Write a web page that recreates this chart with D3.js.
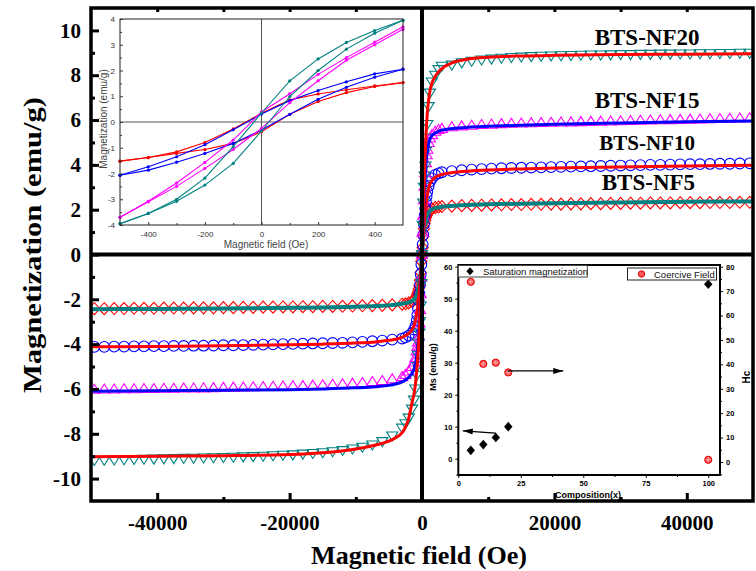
<!DOCTYPE html>
<html>
<head>
<meta charset="utf-8">
<script src="https://cdn.jsdelivr.net/npm/d3@7"></script>
<style>
  body { margin: 0; background: #fff; }
  svg { display: block; }
</style>
</head>
<body>
<div id="chart"></div>
<script>
// ---- main plot data: measured points (Oe, emu/g) ----
const field = [-49500, -48000, -46500, -45000, -43500, -42000, -40500, -39000, -37500, -36000,
  -34500, -33000, -31500, -30000, -28500, -27000, -25500, -24000, -22500, -21000,
  -19500, -18000, -16500, -15000, -13500, -12000, -10500, -9000, -7500, -6000, -4500,
  -3000, -2500, -2000, -1500, -1200, -1000, -800, -700, -600, -500, -400, -300, -200, -100,
  0,
  100, 200, 300, 400, 500, 600, 700, 800, 1000, 1200, 1500, 2000, 2500, 3000,
  4500, 6000, 7500, 9000, 10500, 12000, 13500, 15000, 16500, 18000, 19500, 21000,
  22500, 24000, 25500, 27000, 28500, 30000, 31500, 33000, 34500, 36000, 37500, 39000,
  40500, 42000, 43500, 45000, 46500, 48000, 49500];

const mNF5 = [-2.42, -2.42, -2.41, -2.41, -2.40, -2.40, -2.40, -2.39, -2.39, -2.39,
  -2.38, -2.38, -2.38, -2.37, -2.37, -2.36, -2.36, -2.35, -2.35, -2.34,
  -2.34, -2.33, -2.33, -2.32, -2.32, -2.31, -2.30, -2.29, -2.28, -2.27, -2.25,
  -2.22, -2.20, -2.16, -2.10, -2.03, -1.96, -1.85, -1.76, -1.66, -1.53, -1.38, -1.15, -0.80, -0.30,
  0,
  0.30, 0.80, 1.15, 1.38, 1.53, 1.65, 1.74, 1.82, 1.92, 1.98, 2.04, 2.09, 2.12, 2.14,
  2.16, 2.18, 2.19, 2.20, 2.21, 2.22, 2.23, 2.23, 2.24, 2.24, 2.25, 2.25,
  2.26, 2.26, 2.27, 2.27, 2.28, 2.28, 2.29, 2.29, 2.30, 2.30, 2.30, 2.31,
  2.31, 2.31, 2.32, 2.32, 2.32, 2.33, 2.33];

const mNF10 = [-4.12, -4.12, -4.11, -4.11, -4.10, -4.10, -4.09, -4.09, -4.08, -4.08,
  -4.07, -4.07, -4.06, -4.05, -4.05, -4.04, -4.03, -4.02, -4.01, -4.00,
  -3.99, -3.98, -3.97, -3.96, -3.95, -3.94, -3.92, -3.90, -3.87, -3.84, -3.80,
  -3.75, -3.70, -3.62, -3.50, -3.35, -3.20, -2.95, -2.70, -2.40, -2.05, -1.74, -1.35, -0.88, -0.45,
  0,
  0.45, 0.88, 1.35, 1.74, 2.05, 2.35, 2.60, 2.80, 3.05, 3.25, 3.40, 3.55, 3.62, 3.67,
  3.72, 3.76, 3.79, 3.81, 3.83, 3.85, 3.86, 3.87, 3.88, 3.89, 3.90, 3.91,
  3.92, 3.93, 3.94, 3.95, 3.96, 3.97, 3.98, 3.99, 4.00, 4.00, 4.01, 4.02,
  4.03, 4.03, 4.04, 4.05, 4.05, 4.06, 4.07];

const mNF15 = [-6.01, -6.00, -6.00, -5.99, -5.99, -5.98, -5.98, -5.97, -5.97, -5.96,
  -5.96, -5.95, -5.94, -5.93, -5.92, -5.91, -5.90, -5.89, -5.88, -5.87,
  -5.86, -5.85, -5.83, -5.81, -5.79, -5.77, -5.74, -5.71, -5.67, -5.62, -5.55,
  -5.45, -5.35, -5.20, -5.00, -4.80, -4.60, -4.30, -4.10, -3.90, -3.65, -3.05, -2.45, -1.75, -1.00,
  0,
  1.00, 1.75, 2.45, 3.05, 3.65, 4.10, 4.45, 4.70, 5.00, 5.20, 5.35, 5.50, 5.58, 5.63,
  5.70, 5.74, 5.77, 5.80, 5.82, 5.84, 5.86, 5.87, 5.88, 5.89, 5.90, 5.91,
  5.92, 5.93, 5.94, 5.95, 5.96, 5.97, 5.98, 5.99, 6.00, 6.01, 6.02, 6.03,
  6.04, 6.05, 6.06, 6.07, 6.08, 6.09, 6.10];

const mNF20 = [-9.19, -9.18, -9.17, -9.16, -9.15, -9.14, -9.13, -9.12, -9.11, -9.10,
  -9.09, -9.08, -9.07, -9.06, -9.05, -9.03, -9.02, -9.00, -8.98, -8.96,
  -8.94, -8.91, -8.88, -8.85, -8.80, -8.75, -8.68, -8.60, -8.50, -8.35, -8.10,
  -7.75, -7.55, -7.30, -6.90, -6.50, -6.00, -5.40, -5.00, -4.50, -3.95, -3.50, -3.00, -2.30, -1.30,
  0,
  1.30, 2.30, 3.00, 3.50, 3.95, 4.60, 5.20, 5.80, 6.60, 7.20, 7.70, 8.00, 8.25, 8.40,
  8.45, 8.55, 8.62, 8.68, 8.72, 8.76, 8.79, 8.81, 8.83, 8.85, 8.86, 8.87,
  8.88, 8.89, 8.90, 8.90, 8.91, 8.92, 8.92, 8.93, 8.93, 8.94, 8.94, 8.95,
  8.95, 8.96, 8.96, 8.97, 8.97, 8.98, 8.98];

// fitted curves
const fitField = [-50000, -40000, -30000, -20000, -15000, -10000, -7000, -5000, -4000, -3000,
  -2500, -2000, -1500, -1200, -1000, -800, -600, -400, -200, 0,
  200, 400, 600, 800, 1000, 1200, 1500, 2000, 2500, 3000,
  4000, 5000, 7000, 10000, 15000, 20000, 30000, 40000, 50000];
const fitNF5 = [-2.44, -2.43, -2.41, -2.38, -2.36, -2.33, -2.30, -2.27, -2.24, -2.20,
  -2.17, -2.13, -2.07, -2.00, -1.92, -1.80, -1.60, -1.30, -0.80, 0,
  0.80, 1.30, 1.60, 1.78, 1.88, 1.95, 2.01, 2.07, 2.10, 2.13,
  2.16, 2.18, 2.21, 2.24, 2.27, 2.29, 2.32, 2.35, 2.37];
const fitNF10 = [-4.12, -4.10, -4.07, -4.03, -4.00, -3.95, -3.90, -3.83, -3.78, -3.70,
  -3.62, -3.52, -3.35, -3.15, -2.95, -2.65, -2.20, -1.60, -0.80, 0,
  0.80, 1.60, 2.20, 2.65, 2.95, 3.15, 3.30, 3.45, 3.52, 3.57,
  3.63, 3.67, 3.72, 3.77, 3.82, 3.86, 3.91, 3.95, 3.98];
const fitNF15 = [-6.10, -6.08, -6.06, -6.03, -6.00, -5.95, -5.90, -5.84, -5.78, -5.68,
  -5.60, -5.48, -5.30, -5.10, -4.90, -4.55, -4.00, -3.00, -1.60, 0,
  1.60, 3.00, 4.00, 4.60, 4.95, 5.15, 5.30, 5.42, 5.50, 5.55,
  5.60, 5.63, 5.68, 5.72, 5.77, 5.81, 5.87, 5.92, 5.96];
const fitNF20 = [-9.02, -9.00, -8.98, -8.93, -8.85, -8.68, -8.50, -8.33, -8.18, -7.95,
  -7.70, -7.30, -6.60, -6.20, -5.80, -5.20, -4.40, -3.30, -1.80, 0,
  2.00, 3.80, 5.30, 6.30, 6.90, 7.30, 7.65, 7.95, 8.15, 8.30,
  8.48, 8.60, 8.72, 8.80, 8.86, 8.89, 8.92, 8.94, 8.96];

const mainYTicks = [-10, -8, -6, -4, -2, 0, 2, 4, 6, 8, 10];
const mainYMinor = [-9, -7, -5, -3, -1, 1, 3, 5, 7, 9];
const mainXTicks = [-40000, -20000, 0, 20000, 40000];
const mainXMinor = [-30000, -10000, 10000, 30000];
const mainTopTicks = [-40000, -30000, -20000, -10000, 10000, 20000, 30000, 40000];

// ---- low field loops (inset, top left) ----
const loopField = [-500, -400, -300, -200, -100, 0, 100, 200, 300, 400, 500];
const loopNF5Up = [-1.52, -1.38, -1.16, -0.80, -0.27, 0.34, 0.86, 1.09, 1.25, 1.40, 1.53];
const loopNF5Dn = [-1.52, -1.38, -1.22, -1.07, -0.83, -0.38, 0.30, 0.80, 1.14, 1.38, 1.53];
const loopNF10Up = [-2.07, -1.74, -1.35, -0.88, -0.30, 0.31, 0.83, 1.22, 1.56, 1.87, 2.05];
const loopNF10Dn = [-2.07, -1.87, -1.56, -1.22, -0.83, -0.31, 0.30, 0.88, 1.35, 1.74, 2.05];
const loopNF15Up = [-3.70, -3.08, -2.37, -1.57, -0.70, 0.39, 1.10, 1.85, 2.50, 3.10, 3.70];
const loopNF15Dn = [-3.70, -3.10, -2.50, -1.80, -1.07, -0.25, 0.75, 1.60, 2.40, 3.00, 3.60];
const loopNF20Up = [-3.95, -3.55, -3.00, -2.18, -0.96, 0.35, 1.60, 2.45, 3.09, 3.55, 3.95];
const loopNF20Dn = [-3.95, -3.55, -3.08, -2.45, -1.61, -0.35, 0.99, 2.00, 2.83, 3.45, 3.95];
const loopXTicks = [-400, -200, 0, 200, 400];
const loopYTicks = [-4, -3, -2, -1, 0, 1, 2, 3, 4];

// ---- composition inset (bottom right) ----
const composition = [5, 10, 15, 20, 100];
const msValues = [2.6, 4.4, 6.6, 10.0, 54.5];
const hcValues = [73.8, 40.2, 40.7, 36.7, 0.9];
const compTicks = [0, 25, 50, 75, 100];
const msTicks = [0, 10, 20, 30, 40, 50, 60];
const hcTicks = [0, 10, 20, 30, 40, 50, 60, 70, 80];

const TEAL = '#008080', RED = '#ff0000', BLUE = '#0000ff', MAG = '#ff00ff';
const serif = '"Liberation Serif", "Times New Roman", serif';
const sans = '"Liberation Sans", Arial, sans-serif';

const series = [
  { name: 'BTS-NF5',  m: mNF5,  color: RED,  shape: 'diamond', fit: fitNF5,  fitColor: TEAL, fitW: 4, lab: [34200, 2.88], fs: 23 },
  { name: 'BTS-NF10', m: mNF10, color: BLUE, shape: 'circle',  fit: fitNF10, fitColor: RED,  fitW: 3, lab: [34000, 4.66], fs: 21 },
  { name: 'BTS-NF15', m: mNF15, color: MAG,  shape: 'up',      fit: fitNF15, fitColor: BLUE, fitW: 3, lab: [34000, 6.54], fs: 23 },
  { name: 'BTS-NF20', m: mNF20, color: TEAL, shape: 'down',    fit: fitNF20, fitColor: RED,  fitW: 3, lab: [34000, 9.35], fs: 23 }
];

// open symbols, sized so that neighbours touch like in the original
const shapes = {
  diamond: 'M0,-6L5.6,0L0,6L-5.6,0Z',
  circle: d3.symbol(d3.symbolCircle, 90)(),
  up: 'M0,-5L5.6,4L-5.6,4Z',
  down: 'M0,5L5.6,-4L-5.6,-4Z'
};

const W = 756, H = 571;
const svg = d3.select('#chart').append('svg')
  .attr('width', W).attr('height', H)
  .style('background', '#fff');

const x = d3.scaleLinear().domain([-50000, 50000]).range([91, 753]);
const y = d3.scaleLinear().domain([-11, 11]).range([501, 8]);

svg.append('clipPath').attr('id', 'mainClip')
  .append('rect').attr('x', 91).attr('y', 8).attr('width', 662).attr('height', 493);

const plot = svg.append('g').attr('clip-path', 'url(#mainClip)');

// markers
series.forEach(s => {
  plot.append('g').selectAll('path')
    .data(field.map((h, i) => [h, s.m[i]]))
    .enter().append('path')
    .attr('d', shapes[s.shape])
    .attr('transform', d => 'translate(' + x(d[0]) + ',' + y(d[1]) + ')')
    .attr('fill', 'none')
    .attr('stroke', s.color)
    .attr('stroke-width', 1.1);
});

// fits
const fitLine = d3.line().x(d => x(d[0])).y(d => y(d[1])).curve(d3.curveMonotoneX);
series.forEach(s => {
  plot.append('path')
    .datum(fitField.map((h, i) => [h, s.fit[i]]))
    .attr('d', fitLine)
    .attr('fill', 'none')
    .attr('stroke', s.fitColor)
    .attr('stroke-width', s.fitW);
});

// sample labels
series.forEach(s => {
  svg.append('text')
    .attr('x', x(s.lab[0])).attr('y', y(s.lab[1]))
    .attr('text-anchor', 'middle')
    .style('font-family', serif).style('font-weight', 'bold')
    .style('font-size', s.fs + 'px')
    .text(s.name);
});

// ---------- inset 1: low-field loops ----------
svg.append('rect').attr('x', 94).attr('y', 10).attr('width', 320).attr('height', 242).attr('fill', '#fff');

const ix = d3.scaleLinear().domain([-500, 500]).range([120, 403]);
const iy = d3.scaleLinear().domain([-4, 4]).range([225, 19]);
const inset1 = svg.append('g');

inset1.append('line').attr('x1', ix(0)).attr('x2', ix(0)).attr('y1', iy(4)).attr('y2', iy(-4))
  .attr('stroke', '#555').attr('stroke-width', 1);
inset1.append('line').attr('x1', ix(-500)).attr('x2', ix(500)).attr('y1', iy(0)).attr('y2', iy(0))
  .attr('stroke', '#555').attr('stroke-width', 1);

const loops = [
  { c: RED, b: [loopNF5Up, loopNF5Dn] },
  { c: BLUE, b: [loopNF10Up, loopNF10Dn] },
  { c: MAG, b: [loopNF15Up, loopNF15Dn] },
  { c: TEAL, b: [loopNF20Up, loopNF20Dn] }
];
const loopLine = d3.line().x(d => ix(d[0])).y(d => iy(d[1]));
loops.forEach(l => {
  l.b.forEach(branch => {
    const pts = loopField.map((h, i) => [h, branch[i]]);
    inset1.append('path').datum(pts).attr('d', loopLine)
      .attr('fill', 'none').attr('stroke', l.c).attr('stroke-width', 1.1);
    inset1.append('g').selectAll('circle').data(pts).enter().append('circle')
      .attr('cx', d => ix(d[0])).attr('cy', d => iy(d[1])).attr('r', 1.6)
      .attr('fill', l.c);
  });
});

inset1.append('rect').attr('x', 120).attr('y', 19).attr('width', 283).attr('height', 206)
  .attr('fill', 'none').attr('stroke', '#222').attr('stroke-width', 1);

inset1.append('g').attr('transform', 'translate(0,225)')
  .call(d3.axisBottom(ix).tickValues(loopXTicks).tickSize(-3).tickPadding(6).tickFormat(d => String(d)));
inset1.append('g').attr('transform', 'translate(120,0)')
  .call(d3.axisLeft(iy).tickValues(loopYTicks).tickSize(-3).tickPadding(5).tickFormat(d => String(d)));
inset1.append('g').attr('transform', 'translate(120,0)')
  .call(d3.axisLeft(iy).tickValues([-3.5, -2.5, -1.5, -0.5, 0.5, 1.5, 2.5, 3.5]).tickSize(-2).tickFormat(''));
inset1.append('g').attr('transform', 'translate(0,225)')
  .call(d3.axisBottom(ix).tickValues([-300, -100, 100, 300]).tickSize(-2).tickFormat(''));
inset1.selectAll('.domain').remove();
inset1.selectAll('.tick line').attr('stroke', '#333');
inset1.selectAll('.tick text').style('font-family', sans).style('font-size', '8px').attr('fill', '#333');

inset1.append('text').attr('x', 266).attr('y', 248).attr('text-anchor', 'middle')
  .style('font-family', sans).style('font-size', '10px').attr('fill', '#444')
  .text('Magnetic field (Oe)');
inset1.append('text').attr('transform', 'translate(107,119) rotate(-90)').attr('text-anchor', 'middle')
  .style('font-family', sans).style('font-size', '10px').attr('fill', '#444')
  .text('Magnetization (emu/g)');

// ---------- inset 2: composition ----------
svg.append('rect').attr('x', 428).attr('y', 257).attr('width', 324).attr('height', 243).attr('fill', '#fff');

const cx = d3.scaleLinear().domain([0, 104.7]).range([458.3, 720]);
const cyL = d3.scaleLinear().domain([-5.1, 60.5]).range([475, 265]);
const cyR = d3.scaleLinear().domain([-5.33, 80.7]).range([475, 265]);
const inset2 = svg.append('g');

inset2.append('rect').attr('x', 458.3).attr('y', 265).attr('width', 261.7).attr('height', 210)
  .attr('fill', 'none').attr('stroke', '#000').attr('stroke-width', 2);

const boldSmall = g => {
  g.select('.domain').remove();
  g.selectAll('.tick line').attr('stroke', '#000').attr('stroke-width', 1);
  g.selectAll('.tick text').style('font-family', sans).style('font-weight', 'bold')
    .style('font-size', '7.5px').attr('fill', '#000');
};
inset2.append('g').attr('transform', 'translate(0,475)')
  .call(d3.axisBottom(cx).tickValues(compTicks).tickSize(3).tickPadding(3)).call(boldSmall);
inset2.append('g').attr('transform', 'translate(0,475)')
  .call(d3.axisBottom(cx).tickValues([12.5, 37.5, 62.5, 87.5]).tickSize(2).tickFormat('')).call(boldSmall);
inset2.append('g').attr('transform', 'translate(458.3,0)')
  .call(d3.axisLeft(cyL).tickValues(msTicks).tickSize(3).tickPadding(3)).call(boldSmall);
inset2.append('g').attr('transform', 'translate(458.3,0)')
  .call(d3.axisLeft(cyL).tickValues([-5, 5, 15, 25, 35, 45, 55]).tickSize(2).tickFormat('')).call(boldSmall);
inset2.append('g').attr('transform', 'translate(720,0)')
  .call(d3.axisRight(cyR).tickValues(hcTicks).tickSize(3).tickPadding(3)).call(boldSmall);
inset2.append('g').attr('transform', 'translate(720,0)')
  .call(d3.axisRight(cyR).tickValues([-5, 5, 15, 25, 35, 45, 55, 65, 75]).tickSize(2).tickFormat('')).call(boldSmall);

// Ms points
inset2.append('g').selectAll('path')
  .data(composition.map((c, i) => [c, msValues[i]]))
  .enter().append('path')
  .attr('d', 'M0,-4.8L4.2,0L0,4.8L-4.2,0Z')
  .attr('transform', d => 'translate(' + cx(d[0]) + ',' + cyL(d[1]) + ')')
  .attr('fill', '#000');

// Hc points
const hcG = inset2.append('g').selectAll('g')
  .data(composition.map((c, i) => [c, hcValues[i]]))
  .enter().append('g')
  .attr('transform', d => 'translate(' + cx(d[0]) + ',' + cyR(d[1]) + ')');
hcG.append('circle').attr('r', 3.6).attr('fill', '#ff5a5a').attr('stroke', '#e00000').attr('stroke-width', 1);
hcG.append('path').attr('d', 'M-2.5,0H2.5M0,-2.5V2.5').attr('stroke', '#ffb0b0').attr('stroke-width', 0.8);

// arrows
svg.append('defs').append('marker').attr('id', 'arrowHead')
  .attr('viewBox', '0 0 10 6').attr('refX', 10).attr('refY', 3)
  .attr('markerWidth', 11).attr('markerHeight', 6).attr('markerUnits', 'userSpaceOnUse')
  .attr('orient', 'auto')
  .append('path').attr('d', 'M0,0L10,3L0,6Z').attr('fill', '#000');
inset2.append('line')
  .attr('x1', cx(15)).attr('y1', cyL(8.0)).attr('x2', cx(1.8)).attr('y2', cyL(8.7))
  .attr('stroke', '#000').attr('stroke-width', 1.2).attr('marker-end', 'url(#arrowHead)');
inset2.append('line')
  .attr('x1', cx(19.8)).attr('y1', cyR(37.3)).attr('x2', cx(42)).attr('y2', cyR(37.3))
  .attr('stroke', '#000').attr('stroke-width', 1.2).attr('marker-end', 'url(#arrowHead)');

// legends
inset2.append('rect').attr('x', 458.3).attr('y', 265.5).attr('width', 129).attr('height', 11.5)
  .attr('fill', '#fff').attr('stroke', '#444').attr('stroke-width', 1);
inset2.append('path').attr('d', 'M0,-4L3.6,0L0,4L-3.6,0Z').attr('transform', 'translate(470,271.2)').attr('fill', '#000');
inset2.append('text').attr('x', 483).attr('y', 274.6)
  .style('font-family', sans).style('font-size', '9.5px').attr('fill', '#111')
  .text('Saturation magnetization');
inset2.append('rect').attr('x', 627.5).attr('y', 268).attr('width', 89).attr('height', 12)
  .attr('fill', '#fff').attr('stroke', '#222').attr('stroke-width', 1);
inset2.append('circle').attr('cx', 641.5).attr('cy', 274).attr('r', 3.2).attr('fill', '#ff5a5a').attr('stroke', '#e00000');
inset2.append('text').attr('x', 654).attr('y', 277.5)
  .style('font-family', sans).style('font-size', '9.5px').attr('fill', '#111')
  .text('Coercive Field');

inset2.append('text').attr('transform', 'translate(436,367) rotate(-90)').attr('text-anchor', 'middle')
  .style('font-family', sans).style('font-weight', 'bold').style('font-size', '9px')
  .text('Ms (emu/g)');
inset2.append('text').attr('transform', 'translate(750,377) rotate(-90)').attr('text-anchor', 'middle')
  .style('font-family', sans).style('font-weight', 'bold').style('font-size', '10px')
  .text('Hc');
inset2.append('text').attr('x', 588).attr('y', 498).attr('text-anchor', 'middle')
  .style('font-family', sans).style('font-weight', 'bold').style('font-size', '9px')
  .text('Composition(x)');

// ---------- main axes & frame (drawn last) ----------
const axes = svg.append('g');
axes.append('line').attr('x1', x(0)).attr('x2', x(0)).attr('y1', 8).attr('y2', 501)
  .attr('stroke', '#000').attr('stroke-width', 4);
axes.append('line').attr('x1', 91).attr('x2', 753).attr('y1', y(0)).attr('y2', y(0))
  .attr('stroke', '#000').attr('stroke-width', 4);

const styleMain = g => {
  g.select('.domain').remove();
  g.selectAll('.tick line').attr('stroke', '#000').attr('stroke-width', 3);
  g.selectAll('.tick text').style('font-family', serif).style('font-weight', 'bold')
    .style('font-size', '21px').attr('fill', '#000');
};
axes.append('g').attr('transform', 'translate(91,0)')
  .call(d3.axisLeft(y).tickValues(mainYTicks).tickSize(-8).tickPadding(10).tickFormat(d => String(d)))
  .call(styleMain);
axes.append('g').attr('transform', 'translate(91,0)')
  .call(d3.axisLeft(y).tickValues(mainYMinor).tickSize(-4).tickFormat(''))
  .call(styleMain);
axes.append('g').attr('transform', 'translate(0,501)')
  .call(d3.axisBottom(x).tickValues(mainXTicks).tickSize(-8).tickPadding(14).tickFormat(d => String(d)))
  .call(styleMain);
axes.append('g').attr('transform', 'translate(0,501)')
  .call(d3.axisBottom(x).tickValues(mainXMinor).tickSize(-4).tickFormat(''))
  .call(styleMain);
axes.append('g').attr('transform', 'translate(0,8)')
  .call(d3.axisTop(x).tickValues(mainTopTicks).tickSize(-4).tickFormat(''))
  .call(styleMain);

axes.append('rect').attr('x', 91).attr('y', 8).attr('width', 662).attr('height', 493)
  .attr('fill', 'none').attr('stroke', '#000').attr('stroke-width', 3.5);

svg.append('text').attr('x', 419).attr('y', 564).attr('text-anchor', 'middle')
  .attr('textLength', 216).attr('lengthAdjust', 'spacingAndGlyphs')
  .style('font-family', serif).style('font-weight', 'bold').style('font-size', '25px')
  .text('Magnetic field (Oe)');
svg.append('text').attr('transform', 'translate(41,245) rotate(-90)').attr('text-anchor', 'middle')
  .attr('textLength', 296).attr('lengthAdjust', 'spacingAndGlyphs')
  .style('font-family', serif).style('font-weight', 'bold').style('font-size', '26px')
  .text('Magnetization (emu/g)');
</script>
</body>
</html>
